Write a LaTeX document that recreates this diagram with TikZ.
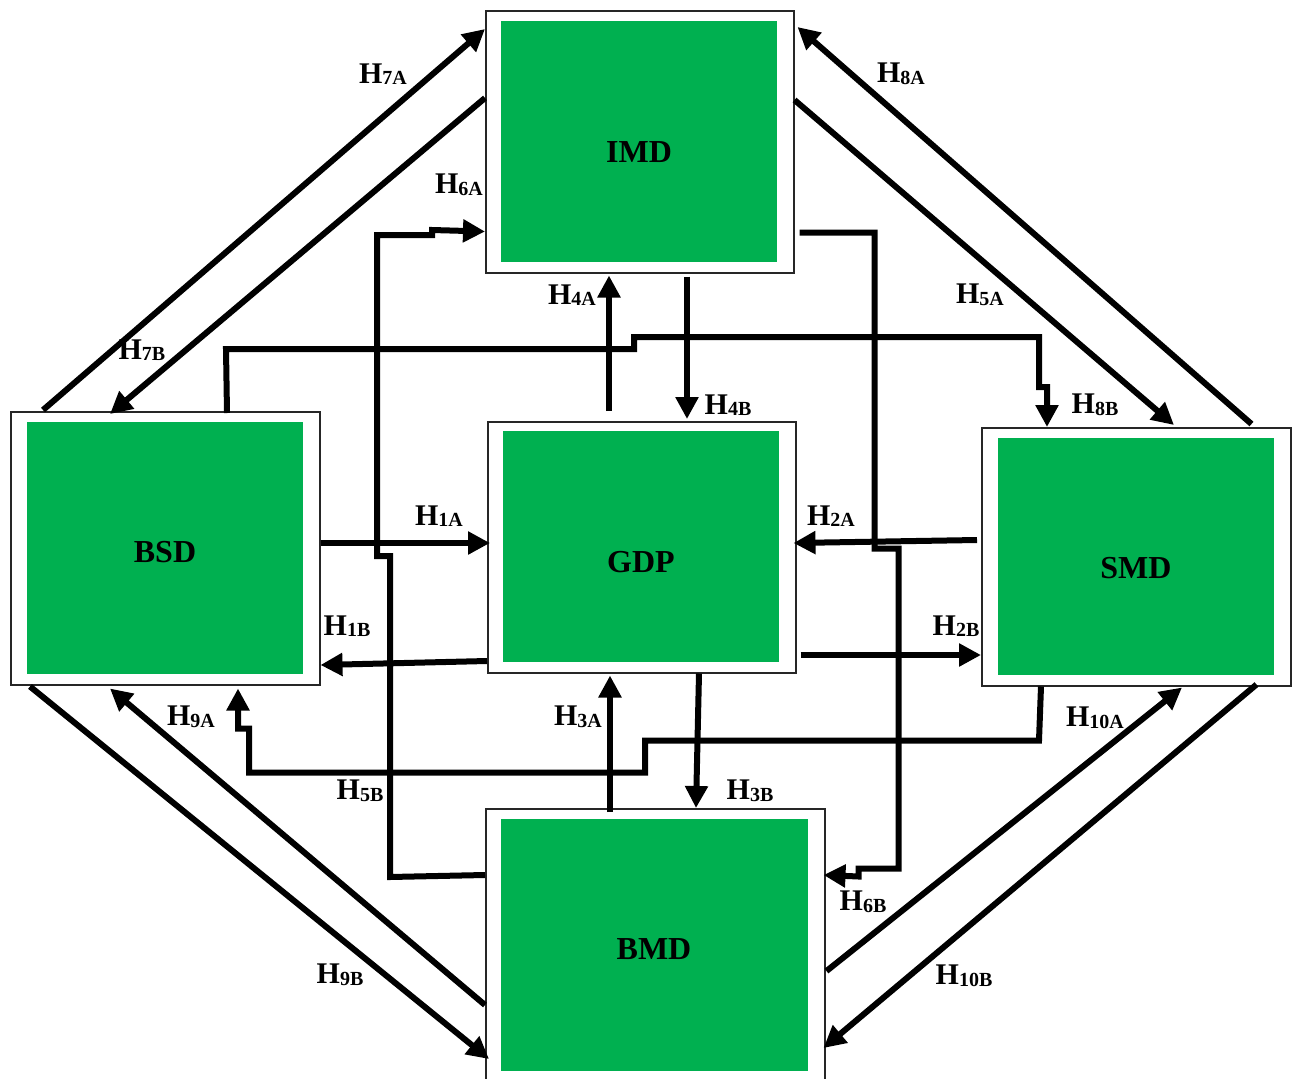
\documentclass[tikz,border=0pt]{standalone}
\usepackage{fontspec}
\setmainfont{Liberation Serif}
\usetikzlibrary{arrows.meta,calc}
\definecolor{boxgreen}{RGB}{0,176,80}
\newcommand\HH[1]{H\raisebox{-1.5pt}{\fontsize{20}{20}\selectfont #1}}
\begin{document}
\begin{tikzpicture}[x=1pt,y=-1pt,
  obox/.style={draw=black!85, line width=1.5pt, fill=white, inner sep=0pt, anchor=north west},
  gbox/.style={fill=boxgreen, inner sep=0pt, anchor=north west},
  btxt/.style={font=\fontsize{32}{32}\selectfont\bfseries, inner sep=0pt},
  hlab/.style={font=\fontsize{30}{30}\selectfont\bfseries, inner sep=0pt},
  conn/.style={line width=6pt},
  arr/.style={conn, -{Triangle[length=22pt,width=22pt]}},
]
\useasboundingbox (0,0) rectangle (1299,1079);
\clip (0,0) rectangle (1299,1079);

% outer boxes
\node[obox, minimum width=308pt, minimum height=262pt] (IMDo) at (485,10) {};
\node[obox, minimum width=309pt, minimum height=273pt] (BSDo) at (10,411) {};
\node[obox, minimum width=308pt, minimum height=251pt] (GDPo) at (487,421) {};
\node[obox, minimum width=309pt, minimum height=258pt] (SMDo) at (981,427) {};
\node[obox, minimum width=339pt, minimum height=300pt] (BMDo) at (485,808) {};

% green inner boxes
\node[gbox, minimum width=276pt, minimum height=241pt] (IMDg) at (501,21) {};
\node[gbox, minimum width=276pt, minimum height=252pt] (BSDg) at (27,422) {};
\node[gbox, minimum width=276pt, minimum height=231pt] (GDPg) at (503,431) {};
\node[gbox, minimum width=276pt, minimum height=237pt] (SMDg) at (998,438) {};
\node[gbox, minimum width=307pt, minimum height=252pt] (BMDg) at (501,819) {};

% box texts
\node[btxt] (IMDt) at (639,152) {IMD};
\node[btxt] (BSDt) at (165,552) {BSD};
\node[btxt] (GDPt) at (641,562) {GDP};
\node[btxt] (SMDt) at (1136,568) {SMD};
\node[btxt] (BMDt) at (654,949) {BMD};

% connectors
\draw[arr] ($(BSDo.north west)+(33,-1)$) -- ($(IMDo.north west)+(0,19)$);
\draw[arr] ($(IMDo.north west)+(0,88)$) -- ($(BSDo.north west)+(100,3)$);
\draw[arr] ($(SMDo.north east)+(-40,-3)$) -- ($(IMDo.north east)+(3,17)$);
\draw[arr] ($(IMDo.north east)+(0,90)$) -- ($(SMDo.north west)+(193,-2)$);
\draw[arr] ($(GDPo.north west)+(122,-10)$) -- ($(IMDo.south west)+(124,2)$);
\draw[arr] ($(IMDo.south west)+(202,3)$) -- ($(GDPo.north west)+(200,-2)$);
\draw[arr] ($(BMDo.north west)+(0,67)$) -- ++(-95,2) -- ++(0,-321) -- ++(-13,0) -- ++(0,-321) -- ++(55,0) -- ++(0,-5) -- ($(IMDo.south west)+(0,-42)$);
\draw[arr] ($(IMDo.south east)+(5,-41)$) -- ++(75,0) -- ++(0,316) -- ++(24,0) -- ++(0,320) -- ++(-40,0) -- ++(0,8) -- ($(BMDo.north east)+(-2,67)$);
\draw[arr] ($(BSDo.north west)+(217,2)$) -- ++(-1,-64) -- ++(408,0) -- ++(0,-12) -- ++(405,0) -- ++(0,50) -- ++(8,0) -- ($(SMDo.north west)+(66,0)$);
\draw[arr] ($(SMDo.south west)+(60,0)$) -- ++(-2,54) -- ++(-394,0) -- ++(0,32) -- ++(-396,0) -- ++(0,-44) -- ++(-11,0) -- ($(BSDo.south west)+(228,3)$);
\draw[arr] ($(BMDo.north west)+(0,197)$) -- ($(BSDo.south west)+(100,3)$);
\draw[arr] ($(BSDo.south west)+(20,1)$) -- ($(BMDo.north west)+(4,251)$);
\draw[arr] ($(BMDo.north east)+(1,163)$) -- ($(SMDo.south west)+(201,1)$);
\draw[arr] ($(SMDo.south east)+(-35,-2)$) -- ($(BMDo.north east)+(-2,240)$);
\draw[arr] ($(BSDo.north east)+(0,132)$) -- ($(GDPo.north west)+(3,122)$);
\draw[arr] ($(GDPo.north west)+(0,240)$) -- ($(BSDo.north east)+(0,254)$);
\draw[arr] ($(SMDo.north west)+(-4,113)$) -- ($(GDPo.north east)+(-3,122)$);
\draw[arr] ($(GDPo.north east)+(4,234)$) -- ($(SMDo.north west)+(0,228)$);
\draw[arr] ($(BMDo.north west)+(125,4)$) -- ($(GDPo.south west)+(123,2)$);
\draw[arr] ($(GDPo.south west)+(212,0)$) -- ($(BMDo.north west)+(211,0)$);

% labels
\node[hlab] (l7A) at (383,74) {\HH{7A}};
\node[hlab] (l8A) at (901,74) {\HH{8A}};
\node[hlab] (l6A) at (459,185) {\HH{6A}};
\node[hlab] (l4A) at (572,295) {\HH{4A}};
\node[hlab] (l5A) at (980,295) {\HH{5A}};
\node[hlab] (l7B) at (142,350) {\HH{7B}};
\node[hlab] (l4B) at (728,405) {\HH{4B}};
\node[hlab] (l8B) at (1095,405) {\HH{8B}};
\node[hlab] (l1A) at (439,516) {\HH{1A}};
\node[hlab] (l2A) at (831,516) {\HH{2A}};
\node[hlab] (l1B) at (347,626) {\HH{1B}};
\node[hlab] (l2B) at (956,626) {\HH{2B}};
\node[hlab] (l9A) at (191,717) {\HH{9A}};
\node[hlab] (l3A) at (578,717) {\HH{3A}};
\node[hlab] (l10A) at (1095,718) {\HH{10A}};
\node[hlab] (l5B) at (360,791) {\HH{5B}};
\node[hlab] (l3B) at (750,791) {\HH{3B}};
\node[hlab] (l6B) at (863,902) {\HH{6B}};
\node[hlab] (l9B) at (340,975) {\HH{9B}};
\node[hlab] (l10B) at (964,976) {\HH{10B}};
\end{tikzpicture}
\end{document}
